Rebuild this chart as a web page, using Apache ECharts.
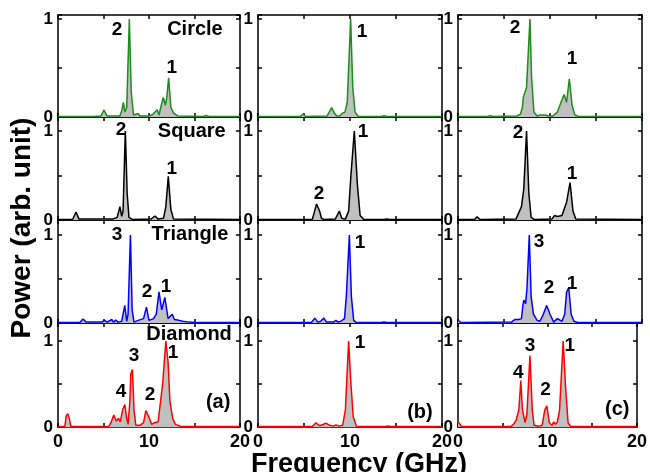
<!DOCTYPE html>
<html>
<head>
<meta charset="utf-8">
<script src="https://cdn.jsdelivr.net/npm/echarts@6/dist/echarts.min.js"></script>
<style>
  html, body { margin: 0; background: #fff; }
  #main { width: 650px; height: 472px; }
</style>
</head>
<body>
<div id="main"></div>
<script>
// power spectra, [frequency GHz, normalized power]
const circleA = [[0,0.005],[3.5,0.005],[3.7,0.015],[3.9,0.005],[4.7,0.01],[5.05,0.07],[5.4,0.01],[6.8,0.01],[7.0,0.06],[7.18,0.15],[7.35,0.05],[7.55,0.1],[7.84,1.0],[8.05,0.25],[8.3,0.02],[8.8,0.035],[9.0,0.01],[10.0,0.01],[10.4,0.025],[10.6,0.01],[10.9,0.075],[11.1,0.02],[11.35,0.12],[11.57,0.2],[11.8,0.12],[11.95,0.2],[12.16,0.4],[12.4,0.1],[12.7,0.04],[13.2,0.01],[16.0,0.005],[16.3,0.015],[16.6,0.005],[20,0.005]];
const circleB = [[0,0.005],[4.6,0.005],[4.9,0.03],[5.2,0.005],[7.5,0.01],[7.8,0.06],[8.0,0.095],[8.3,0.04],[8.55,0.01],[8.9,0.01],[9.2,0.04],[9.45,0.05],[9.7,0.15],[10.07,1.0],[10.3,0.3],[10.55,0.05],[10.9,0.005],[13.4,0.005],[13.7,0.012],[14.0,0.005],[20,0.005]];
const circleC = [[0,0.005],[3.2,0.005],[3.5,0.012],[3.8,0.005],[6.4,0.01],[6.8,0.03],[7.0,0.1],[7.1,0.2],[7.27,0.2],[7.45,0.3],[7.82,1.0],[8.0,0.4],[8.25,0.05],[8.6,0.01],[8.9,0.02],[9.1,0.01],[9.5,0.02],[9.9,0.01],[10.3,0.01],[10.55,0.03],[10.8,0.05],[11.0,0.06],[11.2,0.15],[11.53,0.23],[11.8,0.15],[12.1,0.39],[12.4,0.12],[12.7,0.02],[13.1,0.005],[20,0.005]];

const squareA = [[0,0.005],[1.6,0.005],[1.98,0.09],[2.3,0.01],[6.0,0.01],[6.5,0.03],[6.81,0.15],[7.0,0.04],[7.15,0.1],[7.4,1.0],[7.6,0.3],[7.8,0.03],[8.2,0.005],[10.2,0.01],[10.66,0.045],[11.0,0.01],[11.6,0.02],[11.85,0.15],[12.12,0.49],[12.4,0.12],[12.7,0.01],[20,0.005]];
const squareB = [[0,0.005],[5.9,0.005],[6.1,0.08],[6.36,0.18],[6.7,0.1],[6.9,0.02],[7.2,0.005],[8.4,0.01],[8.84,0.1],[9.1,0.02],[9.5,0.01],[9.85,0.1],[10.1,0.5],[10.47,1.0],[10.8,0.4],[11.1,0.05],[11.5,0.005],[13.7,0.005],[14.0,0.012],[14.3,0.005],[20,0.005]];
const squareC = [[0,0.005],[1.8,0.005],[2.07,0.035],[2.4,0.005],[6.3,0.01],[6.6,0.08],[6.9,0.15],[7.15,0.35],[7.45,1.0],[7.7,0.3],[7.95,0.03],[8.3,0.005],[10.2,0.01],[10.5,0.05],[10.8,0.04],[11.0,0.06],[11.3,0.05],[11.5,0.06],[11.8,0.2],[12.18,0.42],[12.5,0.1],[12.8,0.01],[20,0.005]];

const triangleA = [[0,0.005],[2.4,0.005],[2.75,0.045],[3.1,0.01],[4.8,0.01],[5.1,0.03],[5.4,0.01],[5.9,0.04],[6.1,0.01],[6.35,0.035],[6.6,0.01],[7.0,0.02],[7.34,0.2],[7.55,0.02],[7.7,0.1],[7.96,1.0],[8.15,0.15],[8.35,0.01],[8.8,0.03],[9.0,0.01],[9.4,0.05],[9.72,0.18],[10.0,0.03],[10.5,0.05],[10.8,0.1],[11.1,0.355],[11.4,0.15],[11.74,0.29],[12.1,0.05],[12.3,0.04],[12.55,0.1],[12.8,0.04],[13.3,0.03],[13.7,0.02],[14.4,0.01],[15,0.005],[20,0.005]];
const triangleB = [[0,0.005],[5.8,0.005],[6.18,0.055],[6.5,0.01],[6.8,0.02],[7.16,0.055],[7.45,0.01],[8.2,0.01],[8.47,0.03],[8.7,0.01],[9.0,0.02],[9.1,0.035],[9.4,0.05],[9.6,0.3],[9.93,1.0],[10.15,0.3],[10.4,0.03],[10.7,0.005],[13.4,0.005],[13.7,0.012],[14.0,0.005],[20,0.005]];
const triangleC = [[0,0.03],[0.3,0.01],[0.6,0.005],[5.8,0.01],[6.2,0.04],[6.6,0.04],[6.9,0.05],[7.05,0.2],[7.16,0.26],[7.35,0.22],[7.5,0.4],[7.75,1.0],[7.95,0.3],[8.2,0.1],[8.6,0.03],[8.9,0.02],[9.2,0.08],[9.64,0.2],[10.0,0.1],[10.4,0.01],[10.8,0.05],[11.0,0.07],[11.3,0.02],[11.6,0.1],[11.8,0.35],[12.04,0.4],[12.3,0.1],[12.6,0.02],[13.0,0.005],[20,0.005]];

const diamondA = [[0,0.005],[0.75,0.005],[0.9,0.13],[1.06,0.155],[1.25,0.1],[1.4,0.01],[2.0,0.005],[2.1,0.015],[2.3,0.005],[5.6,0.01],[5.85,0.06],[6.13,0.14],[6.4,0.07],[6.64,0.1],[6.85,0.06],[7.1,0.2],[7.34,0.26],[7.55,0.1],[7.7,0.03],[7.9,0.3],[8.0,0.62],[8.18,0.67],[8.35,0.2],[8.55,0.02],[9.0,0.02],[9.4,0.05],[9.65,0.19],[9.83,0.2],[10.05,0.1],[10.3,0.03],[10.6,0.05],[11.0,0.06],[11.2,0.05],[11.5,0.5],[11.85,1.0],[12.1,0.75],[12.3,0.3],[12.6,0.1],[12.9,0.03],[13.5,0.005],[20,0.005]];
const diamondB = [[0,0.005],[5.9,0.005],[6.29,0.05],[6.6,0.02],[6.9,0.02],[7.38,0.045],[7.8,0.02],[8.2,0.01],[8.47,0.025],[8.8,0.01],[9.2,0.02],[9.5,0.2],[9.85,1.0],[10.1,0.5],[10.35,0.12],[10.7,0.01],[11.2,0.005],[13.8,0.005],[14.1,0.012],[14.4,0.005],[20,0.005]];
const diamondC = [[0,0.07],[0.15,0.04],[0.4,0.005],[5.9,0.005],[6.2,0.03],[6.3,0.04],[6.5,0.08],[6.8,0.2],[7.02,0.54],[7.2,0.2],[7.5,0.05],[7.7,0.15],[8.04,0.83],[8.3,0.2],[8.5,0.02],[9.0,0.01],[9.4,0.02],[9.7,0.2],[9.93,0.245],[10.2,0.05],[10.5,0.02],[10.7,0.06],[10.9,0.03],[11.1,0.06],[11.35,0.2],[11.5,0.5],[11.75,1.0],[12.0,0.5],[12.3,0.05],[12.6,0.005],[20,0.005]];

const spectra = [
  [circleA, circleB, circleC],
  [squareA, squareB, squareC],
  [triangleA, triangleB, triangleC],
  [diamondA, diamondB, diamondC]
];
const lineColors = ['#1c8c1c', '#000000', '#0000ff', '#ff0000'];
const xLabels = [0, 10, 20];
const yLabels = [0, 1];

// text tags inside each panel: [text, GHz, power]
const tags = [
  [ [['2',6.48,0.89],['Circle',15.05,0.89],['1',12.5,0.5]],
    [['1',11.3,0.87]],
    [['2',6.2,0.91],['1',12.4,0.59]] ],
  [ [['2',6.92,1.01],['Square',14.7,0.99],['1',12.5,0.58]],
    [['2',6.63,0.30],['1',11.41,0.99]],
    [['2',6.52,0.98],['1',12.4,0.52]] ],
  [ [['3',6.48,1.0],['Triangle',14.5,1.0],['2',9.78,0.35],['1',11.87,0.41]],
    [['1',11.09,0.91]],
    [['3',8.8,0.92],['2',9.9,0.40],['1',12.4,0.45]] ],
  [ [['Diamond',14.4,1.08],['3',8.35,0.83],['1',12.64,0.86],['4',6.92,0.41],['2',10.1,0.38],['(a)',17.6,0.28]],
    [['1',11.09,0.98],['(b)',17.6,0.17]],
    [['3',8.04,0.95],['1',12.5,0.95],['4',6.74,0.63],['2',9.78,0.43],['(c)',17.8,0.2]] ]
];

const font = '"Liberation Sans", Arial, sans-serif';
const colLeft = [58, 258, 458], colWidth = [182, 184, 184];
const rowTop = [15, 117, 220, 323], rowHeight = [102, 103, 103, 104];
const rowMax = [1.04, 1.157, 1.17, 1.21];

const frame = { show: true, onZero: false, lineStyle: { color: '#000', width: 1.5 } };
const tick = { inside: true, length: 4, lineStyle: { color: '#000', width: 1.5 } };

const grid = [], xAxis = [], yAxis = [], series = [];
for (let r = 0; r < 4; r++) {
  for (let c = 0; c < 3; c++) {
    const g = grid.length;
    grid.push({ left: colLeft[c], top: rowTop[r], width: colWidth[c], height: rowHeight[r] });
    const xBase = { type: 'value', gridIndex: g, min: 0, max: 20, interval: 5,
      axisLine: frame, axisTick: tick, splitLine: { show: false } };
    xAxis.push(Object.assign({}, xBase, { position: 'bottom',
      axisLabel: { show: r === 3, margin: 6, color: '#000', fontSize: 18, fontWeight: 'bold', fontFamily: font,
        formatter: v => xLabels.indexOf(v) >= 0 ? String(v) : '' } }));
    xAxis.push(Object.assign({}, xBase, { position: 'top', axisLabel: { show: false } }));
    const yBase = { type: 'value', gridIndex: g, min: 0, max: rowMax[r], interval: 0.5,
      axisLine: frame, axisTick: tick, splitLine: { show: false } };
    yAxis.push(Object.assign({}, yBase, { position: 'left',
      axisLabel: { margin: 5, color: '#000', fontSize: 17, fontWeight: 'bold', fontFamily: font,
        formatter: v => yLabels.indexOf(v) >= 0 ? String(v) : '' } }));
    yAxis.push(Object.assign({}, yBase, { position: 'right', axisLabel: { show: false } }));

    series.push({
      type: 'line',
      xAxisIndex: 2 * g,
      yAxisIndex: 2 * g,
      data: spectra[r][c],
      symbol: 'none',
      silent: true,
      lineStyle: { color: lineColors[r], width: 1.5 },
      itemStyle: { color: lineColors[r] },
      areaStyle: { color: '#c0c0c0', opacity: 1 },
      markPoint: {
        symbol: 'circle',
        symbolSize: 1,
        silent: true,
        itemStyle: { color: 'rgba(0,0,0,0)' },
        label: { show: true, position: 'inside', formatter: '{b}', color: '#000',
          fontWeight: 'bold', fontFamily: font, fontSize: 19 },
        data: tags[r][c].map(t => ({ name: t[0], coord: [t[1], t[2]],
          label: { fontSize: t[0].length > 1 ? 20 : 19 } }))
      }
    });
  }
}

const chart = echarts.init(document.getElementById('main'));
chart.setOption({
  animation: false,
  backgroundColor: '#fff',
  grid: grid,
  xAxis: xAxis,
  yAxis: yAxis,
  series: series,
  graphic: [
    { type: 'text', x: 359, y: 478,
      style: { text: 'Frequency (GHz)', fill: '#000', font: 'bold 27px ' + font, align: 'center', verticalAlign: 'bottom' } },
    { type: 'text', x: 22, y: 228, rotation: Math.PI / 2,
      style: { text: 'Power (arb. unit)', fill: '#000', font: 'bold 28px ' + font, align: 'center', verticalAlign: 'middle' } }
  ]
});
</script>
</body>
</html>
